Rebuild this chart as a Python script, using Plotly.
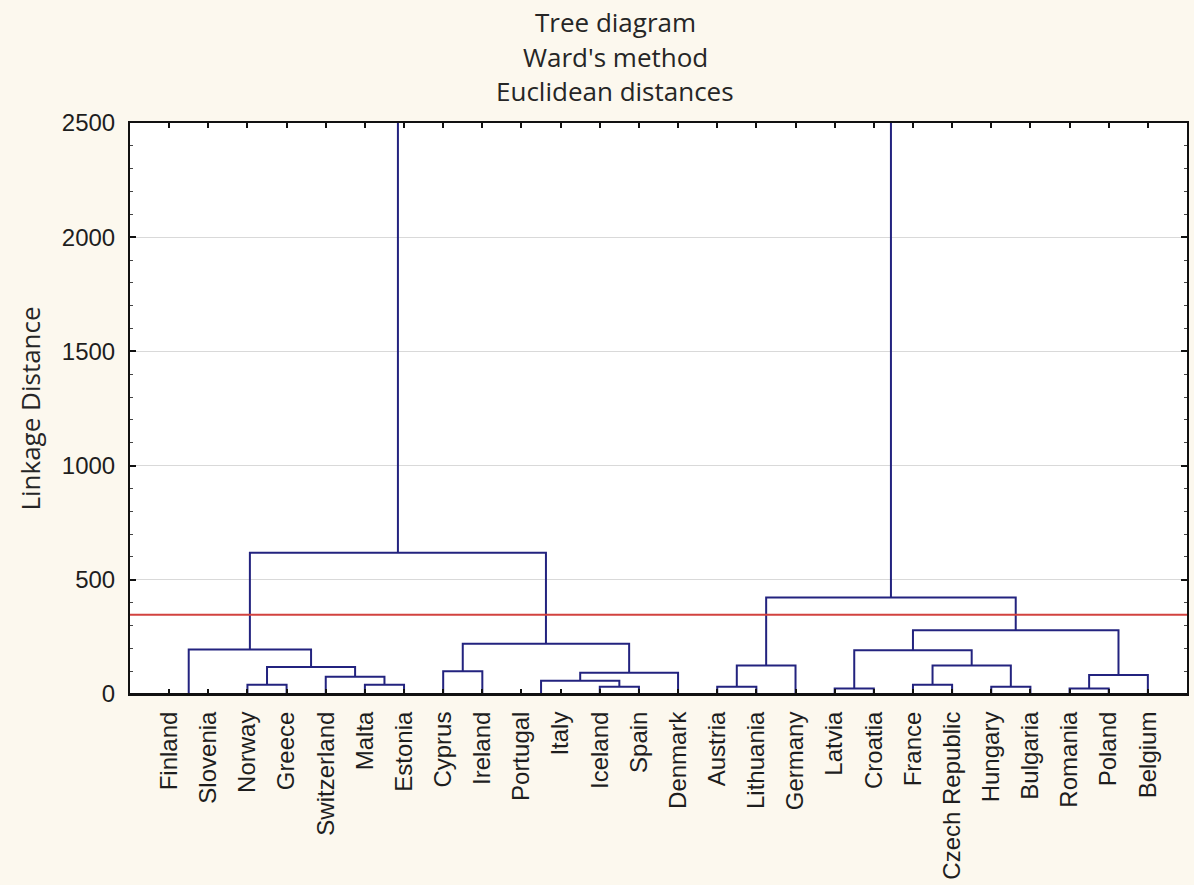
import plotly.graph_objects as go

# Leaf order along the horizontal axis
countries = [
    "Finland", "Slovenia", "Norway", "Greece", "Switzerland", "Malta", "Estonia",
    "Cyprus", "Ireland", "Portugal", "Italy", "Iceland", "Spain", "Denmark",
    "Austria", "Lithuania", "Germany", "Latvia", "Croatia", "France",
    "Czech Republic", "Hungary", "Bulgaria", "Romania", "Poland", "Belgium",
]

# Agglomeration steps (scipy-style ids: 0..25 leaves, 26+ merged clusters)
merge_left = [0, 9, 17, 23, 11, 14, 21, 2, 5, 19, 27, 4, 29, 36, 7, 33, 31, 35, 28, 26, 40, 44, 42, 45, 49]
merge_right = [1, 10, 18, 24, 12, 15, 22, 3, 6, 20, 30, 34, 25, 13, 8, 37, 16, 32, 43, 41, 39, 38, 47, 46, 48]
merge_height = [0, 0, 24.5, 24.5, 32, 32, 32, 40.7, 40.7, 40.7, 58, 75.7, 82.7, 93, 100,
                117.7, 125, 125, 192, 195, 220, 279.5, 422.6, 618, 3000]

# Cut level for the cluster partition
cut_height = 347

y_ticks = [0, 500, 1000, 1500, 2000, 2500]

n = len(countries)
node_x = {i: i + 1 for i in range(n)}
node_h = {i: 0.0 for i in range(n)}

xs, ys = [], []
for k, (a, b, h) in enumerate(zip(merge_left, merge_right, merge_height)):
    xa, xb = node_x[a], node_x[b]
    xs += [xa, xa, xb, xb, None]
    ys += [node_h[a], h, h, node_h[b], None]
    node_x[n + k] = (xa + xb) / 2
    node_h[n + k] = h

fig = go.Figure()
fig.add_trace(go.Scatter(
    x=xs, y=ys, mode="lines",
    line=dict(color="#23237f", width=2),
    hoverinfo="skip", showlegend=False,
))
fig.add_trace(go.Scatter(
    x=[0, n + 1], y=[cut_height, cut_height], mode="lines",
    line=dict(color="#d2423f", width=2),
    hoverinfo="skip", showlegend=False,
))

# Baseline drawn over the tree so zero-height joins sit under the axis
fig.add_shape(type="line", xref="paper", yref="y", x0=0, x1=1, y0=0, y1=0,
              line=dict(color="#111111", width=2), layer="above")

W, H = 1194, 885
ml, mr, mt, mb = 130, 5, 123, 191
plot_h = H - mt - mb


def py(pix):
    return (H - mb - pix) / plot_h


def px(pix):
    return (pix - ml) / (W - ml - mr)


title_font = dict(family="Open Sans, Noto Sans, sans-serif", size=26, color="#262626")
annotations = []
for text, cy in [("Tree diagram", 22), ("Ward's method", 57), ("Euclidean distances", 91)]:
    annotations.append(dict(
        text=text, x=px(616), y=py(cy), xref="paper", yref="paper",
        xanchor="center", yanchor="middle", showarrow=False, font=title_font,
    ))

fig.update_layout(
    width=W, height=H,
    margin=dict(l=ml, r=mr, t=mt, b=mb),
    paper_bgcolor="#fcf8ee",
    plot_bgcolor="#ffffff",
    annotations=annotations,
    xaxis=dict(
        range=[0, n + 1],
        tickmode="array",
        tickvals=list(range(1, n + 1)),
        ticktext=countries,
        tickangle=-90,
        ticks="inside", ticklen=5, tickwidth=2, tickcolor="#111111",
        showline=True, linecolor="#111111", linewidth=2, mirror="ticks",
        showgrid=False, zeroline=False, layer="above traces",
        tickfont=dict(family="Liberation Sans, Arial, sans-serif", size=24, color="#1e1e1e"),
        ticklabelstandoff=6,
    ),
    yaxis=dict(
        range=[0, 2500],
        tickmode="array",
        tickvals=y_ticks,
        ticks="inside", ticklen=6, tickwidth=2, tickcolor="#111111",
        minor=dict(dtick=100, ticks="inside", ticklen=3, tickwidth=1, tickcolor="#444444", showgrid=False),
        showline=True, linecolor="#111111", linewidth=2, mirror="ticks",
        showgrid=True, gridcolor="#d9d9d9", gridwidth=1, zeroline=False,
        tickfont=dict(family="Liberation Sans, Arial, sans-serif", size=24, color="#1e1e1e"),
        ticklabelstandoff=8,
        title=dict(text="Linkage Distance", standoff=14,
                   font=dict(family="Open Sans, Noto Sans, sans-serif", size=26, color="#262626")),
    ),
)

fig.write_html("out.html")
